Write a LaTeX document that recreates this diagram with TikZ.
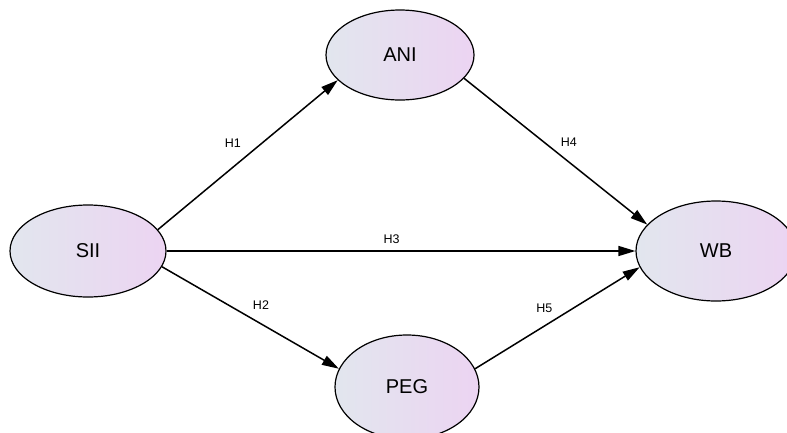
\documentclass[tikz,border=0pt]{standalone}
\usepackage{fontspec}
\setmainfont{Liberation Sans}
\usetikzlibrary{shapes.geometric,arrows.meta}
\definecolor{fillL}{RGB}{226,230,238}
\definecolor{fillR}{RGB}{236,212,242}
\begin{document}
\begin{tikzpicture}[x=1pt,y=-1pt,
    latent/.style={ellipse,draw=black,line width=1.2pt,left color=fillL,right color=fillR,
      inner sep=0pt,font=\fontsize{20}{20}\selectfont,text=black},
    path/.style={line width=1.5pt,-{Triangle[length=17pt,width=10pt]}},
    hyp/.style={font=\fontsize{12.5}{12.5}\selectfont,text=black}]
            \useasboundingbox (0,0) rectangle (787,432);
            \node[latent,minimum width=156,minimum height=92] (sii) at (88,251) {SII};
            \node[latent,minimum width=148,minimum height=90] (ani) at (400,55) {ANI};
            \node[latent,minimum width=160,minimum height=100] (wb) at (716,251) {WB};
            \node[latent,minimum width=144,minimum height=104] (peg) at (407,387) {PEG};
            \draw[path] (sii.17)--(ani.202) node[hyp,pos=0.5,above left=3pt]{H1};
            \draw[path] (sii.-12)--(peg.165) node[hyp,pos=0.48,above right=2pt]{H2};
            \draw[path] (sii.east)--(wb.west) node[hyp,pos=0.48,above=3pt]{H3};
            \draw[path] (ani.-20)--(wb.159) node[hyp,pos=0.5,above right=1pt]{H4};
            \draw[path] (peg.15)--(wb.192) node[hyp,pos=0.5,above left=1pt]{H5};
        \end{tikzpicture}
\end{document}
